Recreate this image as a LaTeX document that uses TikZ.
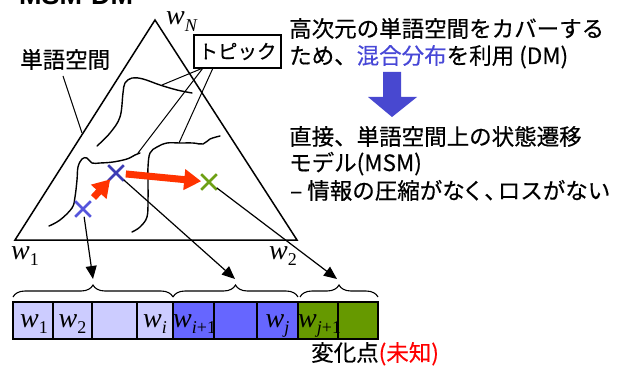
\documentclass[tikz,border=0pt]{standalone}
\usepackage[no-math]{fontspec}
\setmainfont{Noto Sans CJK JP}[FakeBold=0.4]
\newfontfamily\latinsans{Liberation Sans}
\newfontfamily\tms{Liberation Serif}
\newcommand{\wsym}[1]{{\tms\itshape w}\raisebox{-0.24em}{\fontsize{18}{18}\selectfont\tms #1}}
\usetikzlibrary{arrows.meta,decorations.pathreplacing,shapes.misc}
\definecolor{lav}{RGB}{204,204,255}
\definecolor{mblue}{RGB}{102,102,255}
\definecolor{olivegreen}{RGB}{102,153,0}
\definecolor{xblue}{RGB}{85,85,220}
\definecolor{xdark}{RGB}{60,60,180}
\definecolor{xgreen}{RGB}{110,160,20}
\definecolor{redarr}{RGB}{255,51,0}
\definecolor{bigarr}{RGB}{72,72,208}
\definecolor{mixblue}{RGB}{72,72,215}
\begin{document}
\begin{tikzpicture}[x=1pt,y=-1pt,
  jp/.style={font=\fontsize{22.5}{27}\selectfont, inner sep=0pt},
  wlab/.style={font=\fontsize{28}{30}\selectfont, inner sep=0pt},
  cell/.style={draw, line width=1.2pt, minimum height=37pt, inner sep=0pt},
  xmark/.style={cross out, draw, line width=2.6pt, minimum size=13pt, inner sep=0pt},
  conn/.style={line width=1.2pt, -{Triangle[length=13pt,width=11pt]}},
  redarrow/.style={redarr, line width=7pt, -{Triangle[length=17pt,width=20pt]}},
  thin/.style={line width=1pt},
  curve/.style={line width=1.4pt, line join=round, line cap=round},
  bracestyle/.style={decorate, decoration={brace, amplitude=12pt}, line width=1.1pt}
]
\useasboundingbox (0,0) rectangle (617,366);

% title (cut at top, as in the reference)
\node[anchor=base west, inner sep=0pt, font=\latinsans\bfseries\fontsize{27}{30}\selectfont] (title) at (19,5) {MSM-DM};

% triangle
\coordinate (apex) at (155,20);
\coordinate (bl) at (15,240);
\coordinate (br) at (297,240);
\draw[line width=1.5pt, line join=miter] (apex) -- (bl) -- (br) -- cycle;

\node[wlab, anchor=base west] (wN) at (166,25) {\wsym{\itshape N}};
\node[wlab, anchor=base west] (w1) at (11,259) {\wsym{1}};
\node[wlab, anchor=base west] (w2) at (269,259) {\wsym{2}};

% curves
\draw[curve] plot[smooth, tension=0.6] coordinates {(97,146) (110,133) (120,117) (123,93) (125,83) (132,78) (143,79) (160,85) (177,90) (192,93)};
\draw[curve] plot[smooth, tension=0.6] coordinates {(49,226) (60,220) (72,208) (75,197) (77,180) (78,167) (82,159) (87,158) (92,163) (100,163) (113,162) (127,159) (135,155) (140,153)};
\draw[curve] plot[smooth, tension=0.6] coordinates {(132,232) (140,227) (147,217) (148,200) (148,183) (148,167) (150,153) (157,147) (167,143) (180,143) (193,143) (203,144) (210,139) (220,136)};

% labels
\node[jp, anchor=base west] (space) at (20,68) {単語空間};
\coordinate (edgept) at (82,133);
\draw[thin] (63,76) -- (edgept);

\node[draw, line width=1.2pt, minimum width=87pt, minimum height=33pt, inner sep=0pt,
      font=\fontsize{19.5}{22}\selectfont] (topic) at (237.5,51.5) {トピック};
\coordinate (t1) at (203,68);
\coordinate (t2) at (213,68);
\coordinate (k1) at (162,85);
\coordinate (k2) at (138,153);
\coordinate (k3) at (179,143);
\draw[thin] (t1) -- (k1);
\draw[thin] (t1) -- (k2);
\draw[thin] (t2) -- (k3);

% crosses
\node[xmark, xblue] (c1) at (83,209) {};
\node[xmark, xdark] (c2) at (116,173) {};
\node[xmark, xgreen] (c3) at (209,182) {};

\draw[redarrow, shorten <=5pt, shorten >=-2pt] (c1) -- (c2);
\draw[redarrow, shorten <=2pt] (c2) -- (c3);

% word cells
\node[cell, fill=lav, minimum width=40pt] (s1) at (33,320.5) {};
\node[cell, fill=lav, minimum width=39pt] (s2) at (72.5,320.5) {};
\node[cell, fill=lav, minimum width=45pt] (s3) at (114.5,320.5) {};
\node[cell, fill=lav, minimum width=36pt] (s4) at (155,320.5) {};
\node[cell, fill=mblue, minimum width=41pt] (s5) at (193.5,320.5) {};
\node[cell, fill=mblue, minimum width=43pt] (s6) at (235.5,320.5) {};
\node[cell, fill=mblue, minimum width=41pt] (s7) at (277.5,320.5) {};
\node[cell, fill=olivegreen, minimum width=40pt] (s8) at (318,320.5) {};
\node[cell, fill=olivegreen, minimum width=40pt] (s9) at (358,320.5) {};

\node[wlab, anchor=base] (l1) at (34,327) {\wsym{1}};
\node[wlab, anchor=base] (l2) at (72.5,327) {\wsym{2}};
\node[wlab, anchor=base] (l4) at (155,327) {\wsym{\itshape i}};
\node[wlab, anchor=base west] (l5) at (173,327) {\wsym{\textit{i}+1}};
\node[wlab, anchor=base] (l7) at (277.5,327) {\wsym{\itshape j}};
\node[wlab, anchor=base west] (l8) at (298,327) {\wsym{\textit{j}+1}};

% braces
\draw[bracestyle] (13,297) -- (173,297);
\draw[bracestyle] (173,297) -- (298,297);
\draw[bracestyle] (300,297) -- (378,297);
\coordinate (b1) at (93,279);
\coordinate (b2) at (235,279);
\coordinate (b3) at (337,279);

\draw[conn] (c1) -- (b1);
\draw[conn] (c2) -- (b2);
\draw[conn] (c3) -- (b3);

\node[jp, anchor=base west] (change) at (311,361) {変化点\textcolor{red}{(未知)}};

% right-hand text
\node[jp, anchor=base west] (r1) at (289,37) {高次元の単語空間をカバーする};
\node[jp, anchor=base west] (r2) at (289,64) {ため、\textcolor{mixblue}{混合分布}を利用 (DM)};
\fill[bigarr] (383,72) -- (401,72) -- (401,97) -- (417,97) -- (392,117) -- (368,97) -- (383,97) -- cycle;
\node[jp, anchor=base west] (r3) at (289,145) {直接、単語空間上の状態遷移};
\node[jp, anchor=base west] (r4) at (289,171) {モデル(MSM)};
\node[jp, anchor=base west] (r5) at (290,199) {– 情報の圧縮がな\kern-3pt く、\kern-9pt ロスがない};
\end{tikzpicture}
\end{document}
